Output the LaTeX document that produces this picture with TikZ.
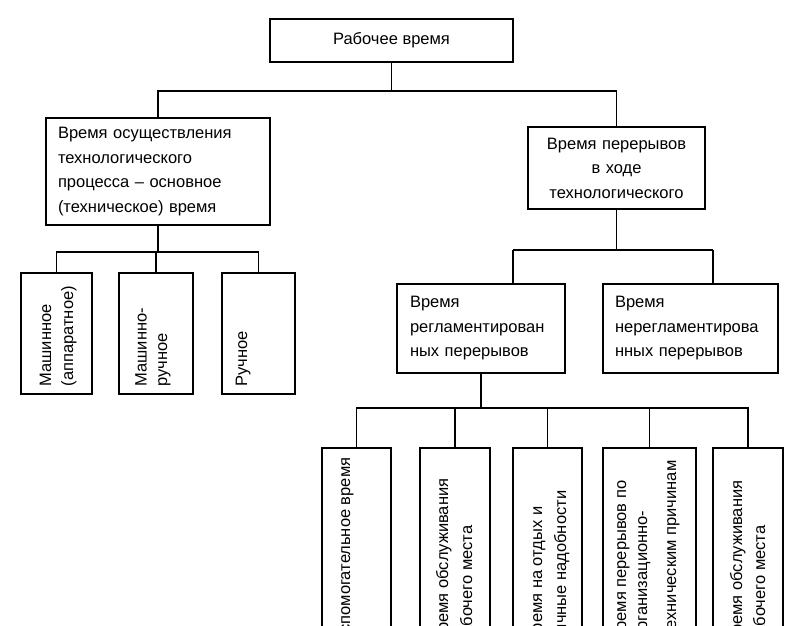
\documentclass[tikz,border=0pt]{standalone}
\usepackage{fontspec}
\setmainfont{Liberation Sans}
\newcommand{\fsz}{\fontsize{16.5}{24.5}\selectfont}
\begin{document}
\begin{tikzpicture}[x=1pt,y=-1pt,line width=1.3pt,
  box/.style={draw,line width=1.3pt,inner xsep=0pt,inner ysep=0pt,font=\fsz},
  hbox/.style={box,align=left},
  cbox/.style={box,align=center},
  vt/.style={rotate=90,inner sep=0pt,font=\fsz},
  conn/.style={draw,line width=1.3pt}]
\useasboundingbox (0,0) rectangle (807,625);
\clip (0,0) rectangle (807,625);
\fill[white] (0,0) rectangle (807,625);

% top
\node[box,minimum width=243pt,minimum height=43pt] (R) at (391.5,40.5) {Рабочее время};

\node[hbox,inner xsep=12pt,text width=200pt,minimum height=107pt] (L) at (158,171.5)
  {Время осуществления\\технологического\\процесса – основное\\(техническое) время};
\node[cbox,inner xsep=6pt,text width=165pt,minimum height=82pt] (P) at (616.5,168)
  {Время перерывов\\в ходе\\технологического};

\coordinate (j1) at (391.5,91);
\path[conn] (R.south) -- (j1);
\path[conn] (L.north) |- (j1) -| (P.north);

% left group
\node[box,minimum width=71pt,minimum height=121pt] (M1) at (56.5,333.5) {};
\node[box,minimum width=74pt,minimum height=121pt] (M2) at (156,333.5) {};
\node[box,minimum width=73pt,minimum height=121pt] (M3) at (258.5,333.5) {};
\coordinate (j4) at (157,252);
\path[conn] (L.south) -- (L.south |- j4);
\path[conn] (M1.north) |- (j4) -| (M3.north);
\path[conn] (M2.north) -- (M2.north |- j4);

\node[vt,anchor=base west] (m1a) at (51,387) {Машинное};
\node[vt,anchor=base west] (m1b) at (73,387) {(аппаратное)};
\node[vt,anchor=base west] (m2a) at (146.5,387) {Машинно-};
\node[vt,anchor=base west] (m2b) at (167,387) {ручное};
\node[vt,anchor=base west] (m3a) at (247,387) {Ручное};

% right second level
\node[hbox,inner xsep=13pt,text width=142pt,minimum height=89pt] (Q1) at (481,328.5)
  {Время\\регламентирован\\ных перерывов};
\node[hbox,inner xsep=12pt,text width=151pt,minimum height=89pt] (Q2) at (690.5,328.5)
  {Время\\нерегламентирова\\нных перерывов};
\coordinate (j2a) at (513,250);
\coordinate (j2b) at (713,250);
\path[conn] (P.south) -- (P.south |- j2a);
\path[conn] (j2a) -- (j2b);
\path[conn] (j2a) -- (j2a |- Q1.north);
\path[conn] (j2b) -- (j2b |- Q2.north);

% bottom row
\node[box,minimum width=69pt,minimum height=252pt] (A) at (356.5,574) {};
\node[box,minimum width=70pt,minimum height=252pt] (B) at (455,574) {};
\node[box,minimum width=69pt,minimum height=252pt] (C) at (547.5,574) {};
\node[box,minimum width=93pt,minimum height=252pt] (D) at (649.5,574) {};
\node[box,minimum width=70pt,minimum height=252pt] (E) at (748,574) {};
\coordinate (j3) at (481,408);
\path[conn] (Q1.south) -- (j3);
\path[conn] (A.north) |- (j3) -| (E.north);
\path[conn] (B.north) -- (B.north |- j3);
\path[conn] (C.north) -- (C.north |- j3);
\path[conn] (D.north) -- (D.north |- j3);

\node[vt,anchor=base east] (a1) at (350,457) {Вспомогательное время};
\node[vt,anchor=base east] (b1) at (448,478) {Время обслуживания};
\node[vt,anchor=base east] (b2) at (472,525) {рабочего места};
\node[vt,anchor=base east] (c1) at (542,506) {Время на отдых и};
\node[vt,anchor=base east] (c2) at (566,490) {личные надобности};
\node[vt,anchor=base east] (d1) at (626,480) {Время перерывов по};
\node[vt,anchor=base east] (d2) at (647,510) {организационно-};
\node[vt,anchor=base east] (d3) at (676,460) {техническим причинам};
\node[vt,anchor=base east] (e1) at (742,480) {Время обслуживания};
\node[vt,anchor=base east] (e2) at (765,525) {рабочего места};
\end{tikzpicture}
\end{document}
